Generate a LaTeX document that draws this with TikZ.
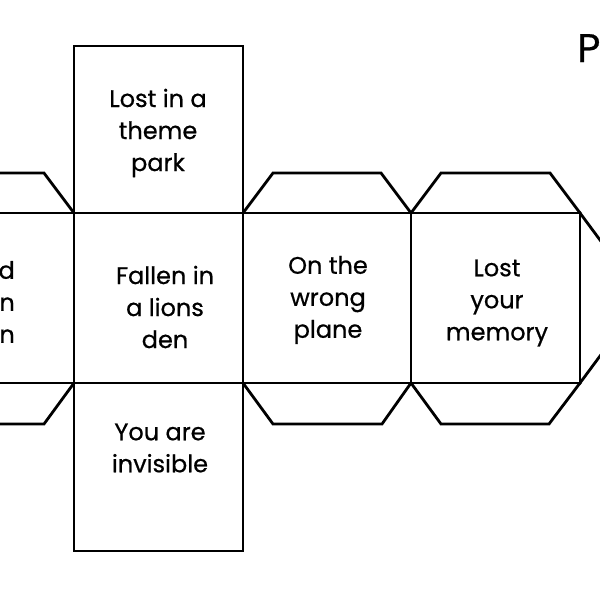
\documentclass[tikz,border=0pt]{standalone}
\usepackage{fontspec}
\setmainfont{Poppins}
\begin{document}
\begin{tikzpicture}[x=1pt,y=-1pt,
  netline/.style={line width=2.8pt, line join=miter, line cap=rect, black},
  facetext/.style={align=center, font=\fontsize{24}{32}\selectfont\addfontfeature{FakeBold=0.6}, inner sep=0pt, text=black}]
\clip (0,0) rectangle (600,600);
\fill[white] (0,0) rectangle (600,600);
% main lines
\draw[netline] (74,46) -- (243,46);
\draw[netline] (74,551) -- (243,551);
\draw[netline] (74,46) -- (74,551);
\draw[netline] (243,46) -- (243,551);
\draw[netline] (411,213) -- (411,383);
\draw[netline] (580,213) -- (580,383);
\draw[netline] (-20,213) -- (580,213);
\draw[netline] (-20,383) -- (580,383);
% flaps
\draw[netline] (-20,173) -- (44,173) -- (74,213);
\draw[netline] (-20,424) -- (44,424) -- (74,383);
\draw[netline] (243,213) -- (273,173) -- (381,173) -- (411,213);
\draw[netline] (411,213) -- (441,173) -- (550,173) -- (580,213);
\draw[netline] (243,383) -- (273,424) -- (382,424) -- (411,383);
\draw[netline] (411,383) -- (441,424) -- (549,424) -- (580,383);
\draw[netline] (580,213) -- (643,298) -- (580,383);
% texts
\node[facetext] (top) at (158,133) {Lost in a\\theme\\park};
\node[facetext] (centre) at (165,307) {Fallen in\\a lions\\den};
\node[facetext] (plane) at (328,300) {On the\\wrong\\plane};
\node[facetext] (memory) at (497,303) {Lost\\your\\memory};
\node[facetext] (invisible) at (160,448) {You are\\invisible};
\node[facetext, align=right, anchor=east] (left) at (15,302) {Stranded\\on a train\\to London};
\node[font=\fontsize{40}{40}\selectfont\addfontfeature{FakeBold=0.6}, anchor=base west, inner sep=0pt] (title) at (577,62) {P};
\end{tikzpicture}
\end{document}
